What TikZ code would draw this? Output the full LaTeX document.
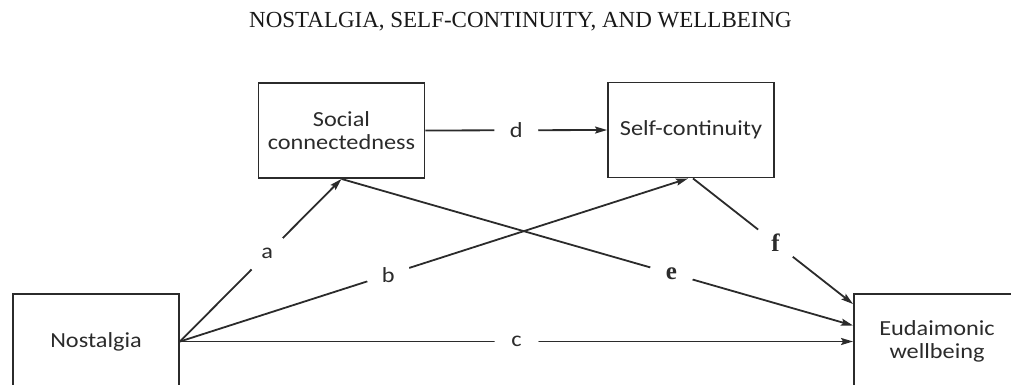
\documentclass[tikz,border=0pt]{standalone}
\usepackage{fontspec}
\setmainfont{Liberation Serif}
\newfontfamily\boxfont[FakeStretch=1.13]{Carlito}
\usetikzlibrary{arrows.meta,calc}
\definecolor{ink}{HTML}{2B2B2B}
\begin{document}
\begin{tikzpicture}[x=1pt,y=-1pt,
  box/.style={draw=ink, line width=1.9pt, minimum width=166pt, minimum height=95pt,
    inner sep=0pt, align=center, text=ink, font=\boxfont\fontsize{21.5}{23}\selectfont},
  link/.style={draw=ink, line width=1.8pt, -{Stealth[length=12pt,width=7pt,inset=2pt]}},
  lbl/.style={circle, fill=white, minimum size=44pt, inner sep=0pt, text=ink,
    font=\boxfont\fontsize{21.5}{23}\selectfont},
  slbl/.style={lbl, font=\bfseries\fontsize{25}{26}\selectfont}]
\useasboundingbox (0,0) rectangle (1011,385);
\clip (0,0) rectangle (1011,385);

% heading
\node[font=\fontsize{23}{25}\selectfont, text=black!90] (title) at (520.5,22)
  {NOSTALGIA, SELF-CONTINUITY, AND WELLBEING};

% variables
\node[box] (soc) at (341.5,130.5) {Social\\connectedness};
\node[box] (sc)  at (691,130) {Self-continuity};
\node[box] (nos) at (96,341.5) {Nostalgia};
\node[box] (eud) at (937,341.5) {Eudaimonic\\wellbeing};

% paths
\draw[link] (nos.east) -- node[lbl, pos=0.54] {a} (soc.south);
\draw[link] (nos.east) -- node[lbl, pos=0.41] {b} ([xshift=-3pt]sc.south);
\draw[link] (nos.east) -- node[lbl, pos=0.5] {c} (eud.west);
\draw[link] (soc.east) -- node[lbl, pos=0.5] {d} (sc.west);
\draw[link] (soc.south) -- node[slbl, pos=0.645] {e} ([yshift=16pt]eud.west);
\draw[link] ([xshift=2pt]sc.south) -- node[slbl, pos=0.515] {f} ([yshift=-11pt]eud.north west);
\end{tikzpicture}
\end{document}
